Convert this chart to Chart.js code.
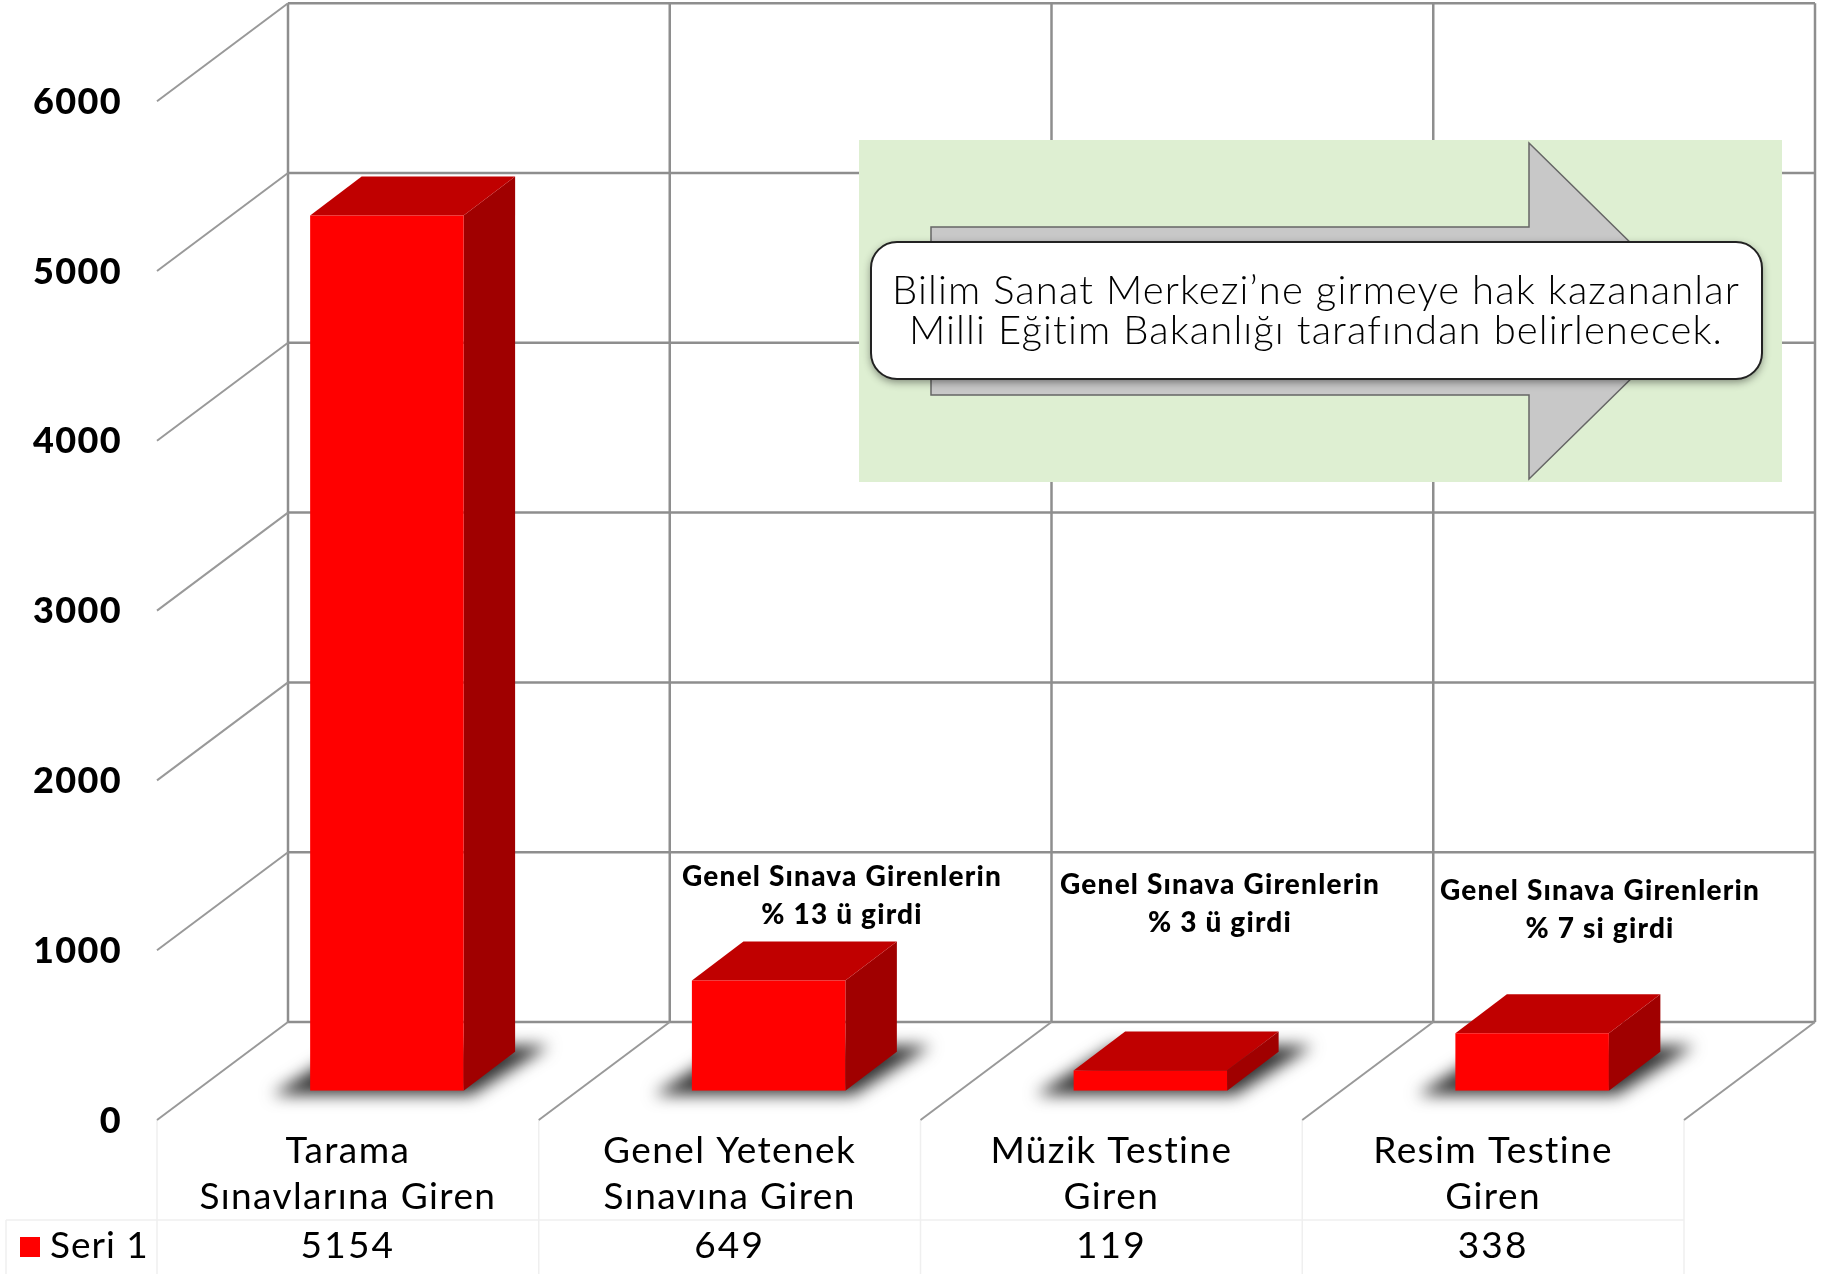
<!DOCTYPE html>
<html lang="tr">
<head>
<meta charset="utf-8">
<title>Seri 1</title>
<script src="https://cdn.jsdelivr.net/npm/chart.js@4"></script>
<style>
  html, body { margin: 0; padding: 0; background: #fff; }
  canvas { display: block; }
</style>
</head>
<body>
<canvas id="sinavChart" width="1822" height="1274"></canvas>
<script>
var categories = [
	["Tarama", "Sınavlarına Giren"],
	["Genel Yetenek", "Sınavına Giren"],
	["Müzik Testine", "Giren"],
	["Resim Testine", "Giren"]
];
var seriesName = "Seri 1";
var seriesValues = [5154, 649, 119, 338];
var yTicks = [0, 1000, 2000, 3000, 4000, 5000, 6000];
var noteLines = [
	["Genel Sınava Girenlerin", "% 13 ü girdi"],
	["Genel Sınava Girenlerin", "% 3 ü girdi"],
	["Genel Sınava Girenlerin", "% 7 si girdi"]
];
var calloutLines = ["Bilim Sanat Merkezi’ne girmeye hak kazananlar", "Milli Eğitim Bakanlığı tarafından belirlenecek."];

var FONT = "Lato, 'Open Sans', sans-serif";
var GRID = "#8e8e8e";

// floor perspective : bar plane is 30% of the way to the back wall
var frontDx = -39, frontDy = 29.3;
var backDx = 92, backDy = -68.7;
var depthDx = 51.5, depthDy = -39;

function poly(ctx, pts, fill) {
	ctx.beginPath();
	ctx.moveTo(pts[0][0], pts[0][1]);
	for (var i = 1; i < pts.length; i++) ctx.lineTo(pts[i][0], pts[i][1]);
	ctx.closePath();
	ctx.fillStyle = fill;
	ctx.fill();
}

function line(ctx, x1, y1, x2, y2) {
	ctx.beginPath();
	ctx.moveTo(x1, y1);
	ctx.lineTo(x2, y2);
	ctx.stroke();
}

var wall3d = {
	id: "wall3d",
	beforeDraw: function (chart) {
		// axis labels are wider in the reference font
		chart.ctx.letterSpacing = "1.4px";
	},
	beforeDatasetsDraw: function (chart) {
		var ctx = chart.ctx, x = chart.scales.x, y = chart.scales.y;
		var w = x.getPixelForValue(1) - x.getPixelForValue(0);
		var left = x.getPixelForValue(0) - w / 2;
		var i, py, px;
		ctx.save();
		ctx.lineCap = "butt";

		// table lines under the floor
		ctx.strokeStyle = "#efefef";
		ctx.lineWidth = 1.5;
		line(ctx, 6, 1220, left + frontDx + w * categories.length, 1220);
		for (i = 0; i <= categories.length; i++) {
			px = left + frontDx + i * w;
			line(ctx, px, y.getPixelForValue(0) + frontDy, px, 1274);
		}
		line(ctx, 6, 1220, 6, 1274);

		// back wall + left side
		ctx.strokeStyle = GRID;
		ctx.lineWidth = 2.5;
		var wallRight = left + backDx + w * categories.length;
		yTicks.forEach(function (t) {
			py = y.getPixelForValue(t);
			line(ctx, left + backDx, py + backDy, wallRight, py + backDy);
		});
		var wallTop = y.getPixelForValue(yTicks[yTicks.length - 1]) + backDy;
		var wallBottom = y.getPixelForValue(0) + backDy;
		for (i = 0; i <= categories.length; i++) {
			px = left + backDx + i * w;
			line(ctx, px, wallTop, px, wallBottom);
		}
		ctx.lineWidth = 2;
		ctx.strokeStyle = "#999";
		yTicks.forEach(function (t) {
			py = y.getPixelForValue(t);
			line(ctx, left + frontDx, py + frontDy, left + backDx, py + backDy);
		});
		for (i = 1; i <= categories.length; i++) {
			line(ctx, left + frontDx + i * w, y.getPixelForValue(0) + frontDy, left + backDx + i * w, wallBottom);
		}

		// shadows + bar sides
		var bars = chart.getDatasetMeta(0).data;
		bars.forEach(function (b) {
			var l = b.x - b.width / 2, r = b.x + b.width / 2;
			ctx.save();
			ctx.filter = "blur(8px)";
			poly(ctx, [[l - 38, b.base + 4], [r + 8, b.base + 4], [r + depthDx + 34, b.base + depthDy - 6], [l + 40, b.base + depthDy - 6]], "#333");
			ctx.restore();
		});
		bars.forEach(function (b) {
			var l = b.x - b.width / 2, r = b.x + b.width / 2;
			poly(ctx, [[r, b.y], [r + depthDx, b.y + depthDy], [r + depthDx, b.base + depthDy], [r, b.base]], "#a00000");
			poly(ctx, [[l, b.y], [l + depthDx, b.y + depthDy], [r + depthDx, b.y + depthDy], [r, b.y]], "#c00000");
		});
		ctx.restore();
	},
	afterDatasetsDraw: function (chart) {
		var ctx = chart.ctx, x = chart.scales.x;
		ctx.save();
		ctx.textAlign = "center";
		ctx.textBaseline = "middle";

		// data table row + legend
		ctx.fillStyle = "#000";
		ctx.font = "400 37px " + FONT;
		ctx.letterSpacing = "2.2px";
		seriesValues.forEach(function (v, i) {
			ctx.fillText(String(v), x.getPixelForValue(i) + frontDx, 1246);
		});
		ctx.fillStyle = "#ff0000";
		ctx.fillRect(20, 1237, 20, 20);
		ctx.fillStyle = "#000";
		ctx.textAlign = "left";
		ctx.letterSpacing = "1px";
		ctx.fillText(seriesName, 50, 1246);
		ctx.textAlign = "center";

		// notes above the small bars
		var noteX = [842, 1220, 1600];
		var noteY = [877, 885, 891];
		ctx.font = "900 28px " + FONT;
		ctx.letterSpacing = "1.2px";
		noteLines.forEach(function (n, i) {
			ctx.fillText(n[0], noteX[i], noteY[i]);
			ctx.fillText(n[1], noteX[i], noteY[i] + 38);
		});

		// green panel, arrow, callout
		ctx.fillStyle = "#deefd2";
		ctx.fillRect(859, 140, 923, 342);
		ctx.beginPath();
		ctx.moveTo(931, 227);
		ctx.lineTo(1529, 227);
		ctx.lineTo(1529, 143);
		ctx.lineTo(1700, 311);
		ctx.lineTo(1529, 479);
		ctx.lineTo(1529, 395);
		ctx.lineTo(931, 395);
		ctx.closePath();
		ctx.fillStyle = "#c8c8c8";
		ctx.fill();
		ctx.strokeStyle = "#666";
		ctx.lineWidth = 1.5;
		ctx.stroke();

		ctx.save();
		ctx.shadowColor = "rgba(0,0,0,0.45)";
		ctx.shadowBlur = 8;
		ctx.shadowOffsetY = 3;
		ctx.beginPath();
		ctx.roundRect(871, 242, 891, 137, 26);
		ctx.fillStyle = "#fff";
		ctx.fill();
		ctx.restore();
		ctx.beginPath();
		ctx.roundRect(871, 242, 891, 137, 26);
		ctx.strokeStyle = "#222";
		ctx.lineWidth = 2;
		ctx.stroke();

		ctx.fillStyle = "#000";
		ctx.font = "300 40px " + FONT;
		ctx.letterSpacing = "1.1px";
		ctx.fillText(calloutLines[0], 1316, 291);
		ctx.fillText(calloutLines[1], 1316, 331);
		ctx.restore();
	}
};

var ctx = document.getElementById("sinavChart").getContext("2d");
var myChart = new Chart(ctx, {
	type: "bar",
	data: {
		labels: categories,
		datasets: [{
			label: seriesName,
			data: seriesValues,
			backgroundColor: "#ff0000",
			borderWidth: 0,
			barPercentage: 0.402,
			categoryPercentage: 1
		}]
	},
	plugins: [wall3d],
	options: {
		responsive: false,
		animation: false,
		layout: { padding: { top: 71.9, right: 99, bottom: 0, left: 0 } },
		plugins: { legend: { display: false }, tooltip: { enabled: false } },
		scales: {
			x: {
				grid: { display: false, drawTicks: false },
				border: { display: false },
				afterFit: function (scale) {
					scale.height = 183.3;
					scale.paddingLeft = 0;
					scale.paddingRight = 0;
				},
				ticks: {
					autoSkip: false,
					maxRotation: 0,
					minRotation: 0,
					labelOffset: frontDx,
					padding: 37,
					color: "#000",
					font: { family: FONT, size: 37, lineHeight: 1.25 }
				}
			},
			y: {
				min: 0,
				max: 6000,
				afterBuildTicks: function (scale) {
					scale.ticks = yTicks.map(function (v) { return { value: v }; });
				},
				afterFit: function (scale) {
					scale.width = 196;
					scale.paddingTop = 0;
					scale.paddingBottom = 0;
				},
				grid: { display: false, drawTicks: false },
				border: { display: false },
				ticks: {
					padding: 74,
					labelOffset: frontDy + 1,
					color: "#000",
					font: { family: FONT, size: 36, weight: "900" },
					callback: function (v) { return String(v); }
				}
			}
		}
	}
});
</script>
</body>
</html>
